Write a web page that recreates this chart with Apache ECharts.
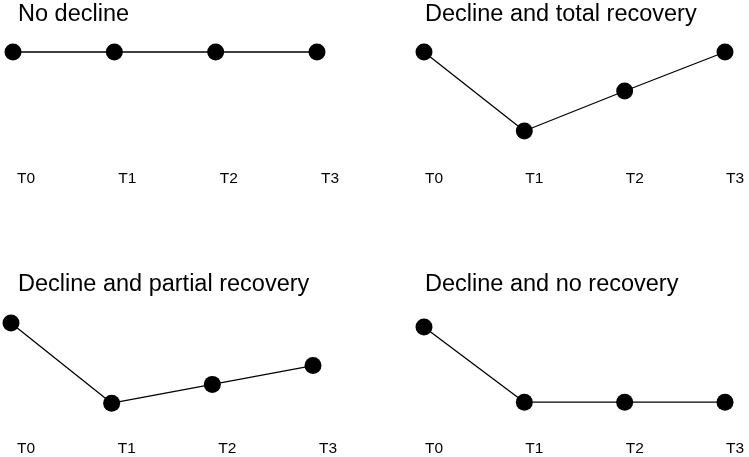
<!DOCTYPE html>
<html>
<head>
<meta charset="utf-8">
<script src="https://cdn.jsdelivr.net/npm/echarts@6/dist/echarts.min.js"></script>
<style>html,body{margin:0;padding:0;background:#fff}#c{width:749px;height:457px}</style>
</head>
<body>
<div id="c"></div>
<script>
const categories = ['T0', 'T1', 'T2', 'T3'];
const panelTitles = ['No decline', 'Decline and total recovery', 'Decline and partial recovery', 'Decline and no recovery'];
const noDecline = [10, 10, 10, 10];
const totalRecovery = [10, 2.1, 6.1, 10];
const partialRecovery = [10, 1.9, 3.8, 5.7];
const noRecovery = [9.6, 2.0, 2.0, 2.0];

const seriesData = [noDecline, totalRecovery, partialRecovery, noRecovery];
const FONT = 'Liberation Sans, Arial, sans-serif';

const grids = [
  { left: 13, top: 52, width: 304, height: 100 },
  { left: 424, top: 52, width: 301, height: 100 },
  { left: 11, top: 323, width: 302, height: 100 },
  { left: 424, top: 323, width: 301, height: 100 }
];
const titlePos = [
  { left: 18, top: 3 },
  { left: 425, top: 3 },
  { left: 18, top: 273 },
  { left: 425, top: 273 }
];
const labelShift = [4, 1, 6, 1];

const option = {
  animation: false,
  backgroundColor: '#ffffff',
  title: panelTitles.map((t, i) => ({
    text: t,
    left: titlePos[i].left,
    top: titlePos[i].top,
    padding: 0,
    textStyle: { fontFamily: FONT, fontSize: 23.5, fontWeight: 'normal', color: '#000' }
  })),
  grid: grids.map(g => Object.assign({ containLabel: false }, g)),
  xAxis: grids.map((g, i) => ({
    type: 'category',
    gridIndex: i,
    data: categories,
    boundaryGap: false,
    axisLine: { show: false },
    axisTick: { show: false },
    splitLine: { show: false },
    axisLabel: {
      show: true,
      margin: 19,
      align: 'left',
      padding: [0, 0, 0, labelShift[i]],
      fontFamily: FONT,
      fontSize: 15.5,
      color: '#000'
    }
  })),
  yAxis: grids.map((g, i) => ({
    type: 'value',
    gridIndex: i,
    min: 0,
    max: 10,
    show: false,
    splitLine: { show: false }
  })),
  series: seriesData.map((d, i) => ({
    type: 'line',
    xAxisIndex: i,
    yAxisIndex: i,
    data: d,
    clip: false,
    symbol: 'circle',
    symbolSize: 17,
    itemStyle: { color: '#000' },
    lineStyle: { color: '#000', width: 1.3 }
  }))
};

const chart = echarts.init(document.getElementById('c'), null, { renderer: 'canvas' });
chart.setOption(option);
</script>
</body>
</html>
